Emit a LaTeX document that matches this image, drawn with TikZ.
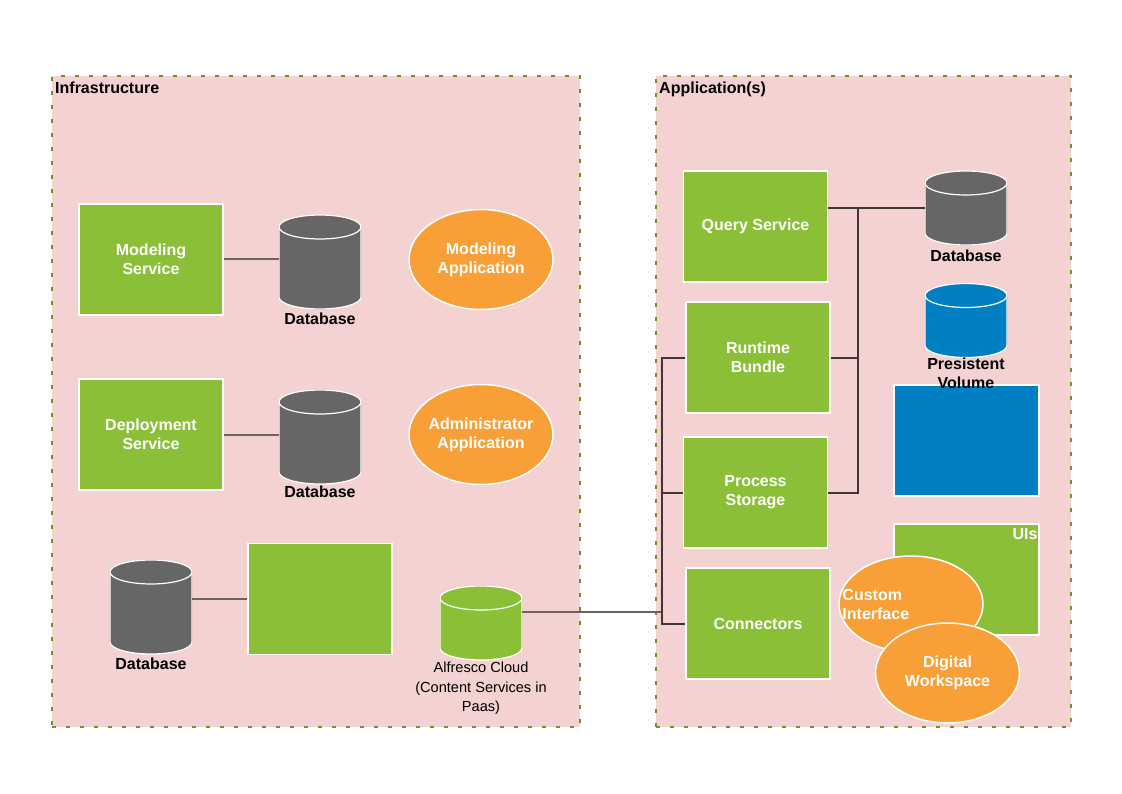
\documentclass[tikz,border=0pt]{standalone}
\usepackage{fontspec}
\setmainfont{Liberation Sans}
\usetikzlibrary{shapes.geometric}
\definecolor{pinkbg}{HTML}{F3D2D1}
\definecolor{olivedash}{HTML}{6F9033}
\definecolor{leaf}{HTML}{8CBF38}
\definecolor{slate}{HTML}{666666}
\definecolor{amber}{HTML}{F8A037}
\definecolor{ocean}{HTML}{0080C3}
\definecolor{wirec}{HTML}{6E6262}
\definecolor{busc}{HTML}{403636}

\begin{document}
\begin{tikzpicture}[x=1pt,y=-1pt,font=\fontsize{16}{19}\selectfont\bfseries]
        \tikzstyle{zone}=[draw=olivedash,fill=pinkbg,line width=2pt,dash pattern=on 4pt off 10pt,inner sep=0]
        \tikzstyle{svc}=[rectangle,draw=white,line width=1.5pt,fill=leaf,text=white,align=center,minimum width=144,minimum height=111,inner sep=0]
        \tikzstyle{app}=[ellipse,draw=white,line width=1.5pt,fill=amber,text=white,align=center,minimum width=144,minimum height=100,inner sep=-5pt]
        \tikzset{db/.style={rectangle,inner sep=0,minimum width=82,minimum height=94,
            path picture={
              \path[fill=#1,draw=white,line width=1.2pt]
                ([yshift=-12pt]path picture bounding box.north west)
                -- ([yshift=12pt]path picture bounding box.south west)
                arc[start angle=180,end angle=360,x radius=41pt,y radius=12pt]
                -- ([yshift=-12pt]path picture bounding box.north east)
                arc[start angle=0,end angle=180,x radius=41pt,y radius=12pt] -- cycle;
              \path[draw=white,line width=1.2pt]
                ([yshift=-12pt]path picture bounding box.north west)
                arc[start angle=180,end angle=360,x radius=41pt,y radius=12pt];
            }},
          db/.default=slate}
        \tikzstyle{lbl}=[text=black,inner sep=2pt]
        \tikzstyle{wire}=[draw=wirec,line width=2pt]
        \tikzstyle{bus}=[draw=busc,line width=2pt]
        \useasboundingbox (0,0) rectangle (1122,794);
       % infrastructure side
       \begin{scope}
         \node [zone,minimum width=528,minimum height=651] (infra) at (316,401.5) {};
         \node [lbl,anchor=north west,inner xsep=4pt,inner ysep=7pt] at (infra.north west) {Infrastructure};
         \node [svc] (ms) at (151,259.5) {Modeling\\Service};
         \node [db,label={[lbl,label distance=2pt]below:Database}] (db1) at (320,262) {};
         \node [app] (ma) at (481,259.5) {Modeling\\Application};
         \node [svc] (ds) at (151,434.5) {Deployment\\Service};
         \node [db,label={[lbl]below:Database}] (db2) at (320,437) {};
         \node [app] (aa) at (481,434.5) {Administrator\\Application};
         \node [db,label={[lbl,label distance=2pt]below:Database}] (db3) at (151,607) {};
         \node [svc] (ext) at (320,599) {};
         \node [db=leaf,minimum height=74] (alf) at (481,623) {};
         \node [lbl,anchor=north,align=center,font=\fontsize{14.6}{19.5}\selectfont] at (alf.south) {Alfresco Cloud\\(Content Services in\\Paas)};
       \end{scope}
       % application side
       \begin{scope}
         \node [zone,minimum width=415,minimum height=651] (apps) at (863.5,401.5) {};
         \node [lbl,anchor=north west,inner xsep=4pt,inner ysep=7pt] at (apps.north west) {Application(s)};
         \node [svc] (qs) at (755.5,226.5) {Query Service};
         \node [svc] (rb) at (758,357.5) {Runtime\\Bundle};
         \node [svc] (ps) at (755.5,492.5) {Process\\Storage};
         \node [svc] (cn) at (758,623.5) {Connectors};
         \node [db,minimum height=74,label={[lbl,label distance=3pt]below:Database}] (db4) at (966,208) {};
         \node [db=ocean,minimum height=74] (pv) at (966,320.5) {};
         \node [svc,fill=ocean,minimum width=145] (vol) at (966.5,440.5) {};
         \node [lbl,anchor=north,inner sep=0,align=center] at (pv.south) {Presistent\\Volume};
         \node [svc,minimum width=145] (ui) at (966.5,579.5) {};
         \node [lbl,text=white,anchor=north east,inner ysep=5pt] at (ui.north east) {UIs};
         \node [app,minimum height=96] (ci) at (911,604) {};
         \node [lbl,text=white,anchor=west,align=left,inner sep=0] at ([xshift=4pt]ci.west) {Custom\\Interface};
         \node [app] (dw) at (947.5,673) {Digital\\Workspace};
       \end{scope}
       % links
       \coordinate (busL) at (662,612);
       \coordinate (busR) at (858,208);
       \path[wire] (ms.east) -- (ms.east -| db1.west);
       \path[wire] (ds.east) -- (ds.east -| db2.west);
       \path[wire] (db3.east |- ext.west) -- (ext.west);
       \path[wire] (alf.east |- busL) -- (busL);
       \path[bus] (rb.west) -| (busL);
       \path[bus] (ps.west) -| (busL);
       \path[bus] (cn.west) -| (busL);
       \path[bus] (db4.west) -- (qs.east |- db4.west);
       \path[bus] (rb.east) -| (busR);
       \path[bus] (ps.east) -| (busR);
      \end{tikzpicture}
\end{document}
